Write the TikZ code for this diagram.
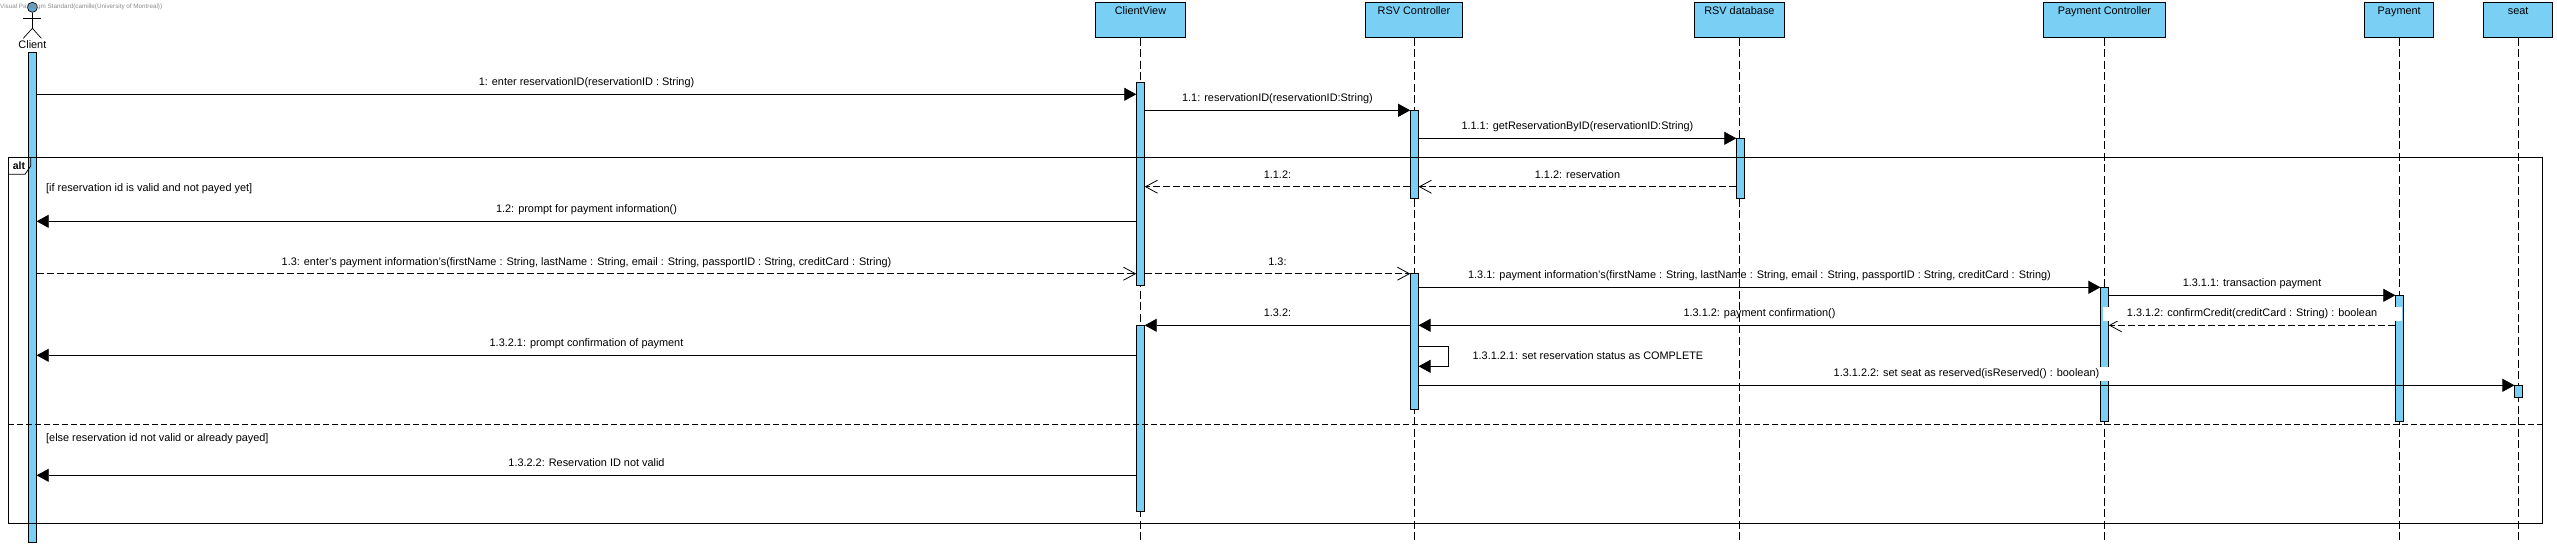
\documentclass[tikz,border=0pt]{standalone}
\usepackage{fontspec}
\setmainfont{Liberation Sans}
\usetikzlibrary{arrows.meta, positioning}

\definecolor{vpblue}{RGB}{122,207,245}
\definecolor{vphead}{RGB}{96,165,205}

\tikzset{
    every node/.style={font=\fontsize{10.9}{13}\selectfont},
    lifebox/.style={draw, fill=vpblue, line width=0.9pt, anchor=north, minimum height=35pt,
        inner ysep=3.5pt, inner xsep=0pt, outer sep=0pt, text height=8pt, text depth=20pt},
    lifeline/.style={line width=0.7pt, dash pattern=on 8pt off 3.5pt},
    activation/.style={draw, fill=vpblue, line width=0.8pt, anchor=north, minimum width=8.4pt,
        inner sep=0pt, outer sep=0pt},
    call/.style={line width=0.8pt, -{Triangle[length=12pt,width=13pt]}},
    reply/.style={line width=0.8pt, dash pattern=on 7pt off 3pt, -{Straight Barb[length=12pt,width=13pt,line width=0.8pt]}},
    msglabel/.style={midway, yshift=11.5pt, inner sep=0pt, text height=8pt, text depth=2.3pt},
    guardtext/.style={anchor=west, inner sep=0pt, text height=8pt, text depth=2.3pt},
}

\begin{document}
\begin{tikzpicture}[x=1pt, y=-1pt]
    \useasboundingbox (0,0) rectangle (2557,547);

    % Lifeline heads and dashed lines
    \foreach \n/\x/\w/\t in {view/1140.5/89.8/ClientView, ctrl/1414/97.3/RSV Controller, db/1739.4/90.2/RSV database,
        payctrl/2104.4/122.2/Payment Controller, pay/2399.2/69.2/Payment, seat/2518.1/69.2/seat}
    {
        \node[lifebox, minimum width=\w pt] (\n Box) at (\x,2.5) {\t};
    }
    \foreach \n in {view, ctrl, db, payctrl, pay, seat}
    \draw[lifeline] (\n Box.south) -- ++(0,503.2);

    % Actor
    \node[circle, draw, fill=vphead, line width=0.7pt, minimum size=10pt, inner sep=0pt] (clientHead) at (32.4,7.3) {};
    \coordinate (clientHip) at (32.4,28.3);
    \coordinate (clientArmL) at (23.3,18.3);
    \coordinate (clientArmR) at (41.3,18.3);
    \coordinate (clientFootL) at (23.3,38.3);
    \coordinate (clientFootR) at (41.3,38.3);
    \draw[line width=0.7pt] (clientHead.south) -- (clientHip);
    \draw[line width=0.7pt] (clientArmL) -- (clientArmR);
    \draw[line width=0.7pt] (clientFootL) -- (clientHip) -- (clientFootR);
    \node[inner sep=0pt] (clientName) at (32.4,45) {Client};
    \node[anchor=west, inner sep=0pt, text=black!45, font=\fontsize{6.3}{8}\selectfont] (stamp) at (0,7.3)
        {Visual Paradigm Standard(camille(University of Montreal))};

    % Activation bars
    \foreach \n/\x/\y/\h in {clientBar/32.5/52/490, viewBarA/1140.5/82.3/203.4, viewBarB/1140.5/325.3/186,
        ctrlBarA/1414.4/110.3/88, ctrlBarB/1414.4/273.3/136, dbBar/1740.5/138.3/60,
        payctrlBar/2104.6/287.3/134.4, payBar/2399.5/295.3/126.4, seatBar/2518.6/385.3/12}
    \node[activation, minimum height=\h pt] (\n) at (\x,\y) {};

    % Alt frame
    \coordinate (frameTL) at (8.3,157.3);
    \coordinate (frameBR) at (2542.8,523);
    \draw[line width=0.8pt] (frameTL) rectangle (frameBR);
    \draw[line width=0.8pt] (30.7,157.3) -- (30.7,166) -- (25,174.3) -- (8.3,174.3);
    \node[inner sep=0pt, font=\fontsize{10.5}{12}\bfseries\selectfont] (altTag) at (19,165.5) {alt};
    \draw[line width=0.7pt, dash pattern=on 6pt off 3pt] (frameTL |- 0,424.3) -- (frameBR |- 0,424.3);
    \node[guardtext] (guardIf) at (46,188.3) {[if reservation id is valid and not payed yet]};
    \node[guardtext] (guardElse) at (46,438.3) {[else reservation id not valid or already payed]};

    % Messages
    \draw[call] (clientBar.east |- 0,94.3) -- (viewBarA.west |- 0,94.3)
        node[msglabel] (m1) {1: enter reservationID(reservationID : String)};
    \draw[call] (viewBarA.east |- 0,110.3) -- (ctrlBarA.west |- 0,110.3)
        node[msglabel] (m11) {1.1: reservationID(reservationID:String)};
    \draw[call] (ctrlBarA.east |- 0,138.3) -- (dbBar.west |- 0,138.3)
        node[msglabel] (m111) {1.1.1: getReservationByID(reservationID:String)};
    \draw[reply] (dbBar.west |- 0,186.7) -- (ctrlBarA.east |- 0,186.7)
        node[msglabel] (m112) {1.1.2: reservation};
    \draw[reply] (ctrlBarA.west |- 0,186.7) -- (viewBarA.east |- 0,186.7)
        node[msglabel] (m112r) {1.1.2:};
    \draw[call] (viewBarA.west |- 0,221.3) -- (clientBar.east |- 0,221.3)
        node[msglabel] (m12) {1.2: prompt for payment information()};
    \draw[reply] (clientBar.east |- 0,273.7) -- (viewBarA.west |- 0,273.7)
        node[msglabel] (m13) {1.3: enter's payment information's(firstName : String, lastName : String, email : String, passportID : String, creditCard : String)};
    \draw[reply] (viewBarA.east |- 0,273.7) -- (ctrlBarB.west |- 0,273.7)
        node[msglabel] (m13r) {1.3:};
    \draw[call] (ctrlBarB.east |- 0,287.3) -- (payctrlBar.west |- 0,287.3)
        node[msglabel] (m131) {1.3.1: payment information's(firstName : String, lastName : String, email : String, passportID : String, creditCard : String)};
    \draw[call] (payctrlBar.east |- 0,295.3) -- (payBar.west |- 0,295.3)
        node[msglabel] (m1311) {1.3.1.1: transaction payment};
    \draw[reply] (payBar.west |- 0,325.3) -- (payctrlBar.east |- 0,325.3)
        node[msglabel, fill=white, minimum width=299pt, minimum height=14pt] (m1312) {1.3.1.2: confirmCredit(creditCard : String) : boolean};
    \draw[call] (payctrlBar.west |- 0,325.3) -- (ctrlBarB.east |- 0,325.3)
        node[msglabel] (m1312r) {1.3.1.2: payment confirmation()};
    \draw[call] (ctrlBarB.west |- 0,325.3) -- (viewBarB.east |- 0,325.3)
        node[msglabel] (m132) {1.3.2:};

    % Self call
    \coordinate (selfTurn) at (1448.8,356);
    \draw[call] (ctrlBarB.east |- 0,346.3) -- (selfTurn |- 0,346.3) -- (selfTurn |- 0,366.3) -- (ctrlBarB.east |- 0,366.3);
    \node[anchor=west, inner sep=0pt] (m13121) at (1472.4,356) {1.3.1.2.1: set reservation status as COMPLETE};

    \draw[call] (ctrlBarB.east |- 0,385.3) -- (seatBar.west |- 0,385.3)
        node[msglabel, fill=white, minimum width=285pt, minimum height=14pt] (m13122) {1.3.1.2.2: set seat as reserved(isReserved() : boolean)};
    \draw[call] (viewBarB.west |- 0,355.3) -- (clientBar.east |- 0,355.3)
        node[msglabel] (m1321) {1.3.2.1: prompt confirmation of payment};
    \draw[call] (viewBarB.west |- 0,475.3) -- (clientBar.east |- 0,475.3)
        node[msglabel] (m1322) {1.3.2.2: Reservation ID not valid};
\end{tikzpicture}
\end{document}
